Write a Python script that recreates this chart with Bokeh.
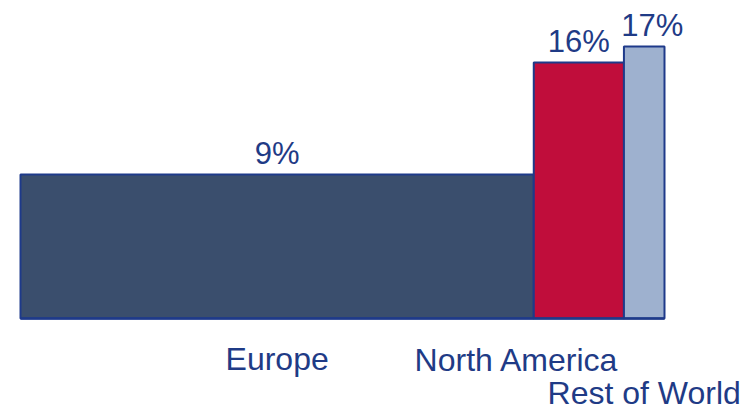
import numpy as np
from bokeh.plotting import figure
from bokeh.models import ColumnDataSource
from bokeh.core.properties import value
from bokeh.embed import file_html
from bokeh.resources import INLINE

# ---- data ----
regions = ["Europe", "North America", "Rest of World"]
shares = [79.7, 14.0, 6.3]          # bar widths (share of total, %)
growth = [9, 16, 17]                 # bar heights (%)
growth_labels = ["9%", "16%", "17%"]
colors = ["#3a4e6d", "#c00d3b", "#9eb1cf"]

# ---- derived geometry from data ----
right = np.cumsum(shares)
left = right - np.array(shares)
center = (left + right) / 2.0

src = ColumnDataSource(dict(left=left, right=right, top=growth, bottom=[0] * 3,
                            center=center, color=colors, lab=growth_labels,
                            region=regions))

TEXT = "#1f3b86"
OUTLINE = "#1e3a8a"
FONT = value("Liberation Sans")

p = figure(width=753, height=406, output_backend="svg", toolbar_location=None,
           x_range=(-3.106, 113.82), y_range=(-5.5, 19.875),
           min_border=0, min_border_left=0, min_border_right=0,
           min_border_top=0, min_border_bottom=0)
p.axis.visible = False
p.grid.visible = False
p.outline_line_color = None
p.background_fill_color = "white"

p.quad(left="left", right="right", top="top", bottom="bottom", source=src,
       fill_color="color", line_color=OUTLINE, line_width=2)

# baseline
p.line(x=[left[0], right[-1]], y=[0, 0], line_color=OUTLINE, line_width=2.5)

# percentage labels above bars
pct_xoff = [0, 0, 8]
pct_src = ColumnDataSource(dict(x=center, y=growth, t=growth_labels, xo=pct_xoff))
p.text(x="x", y="y", text="t", source=pct_src, x_offset="xo", y_offset=-21,
       text_align="center", text_baseline="alphabetic",
       text_font=FONT, text_font_size="31px", text_color=TEXT)

# category labels under the axis
cat_xoff = [0, -62, 0]
cat_yoff = [40, 41, 74]
cat_src = ColumnDataSource(dict(x=center, y=[0] * 3, t=regions, xo=cat_xoff, yo=cat_yoff))
p.text(x="x", y="y", text="t", source=cat_src, x_offset="xo", y_offset="yo",
       text_align="center", text_baseline="alphabetic",
       text_font=FONT, text_font_size="32px", text_color=TEXT)

open("out.html", "w").write(file_html(p, INLINE))
